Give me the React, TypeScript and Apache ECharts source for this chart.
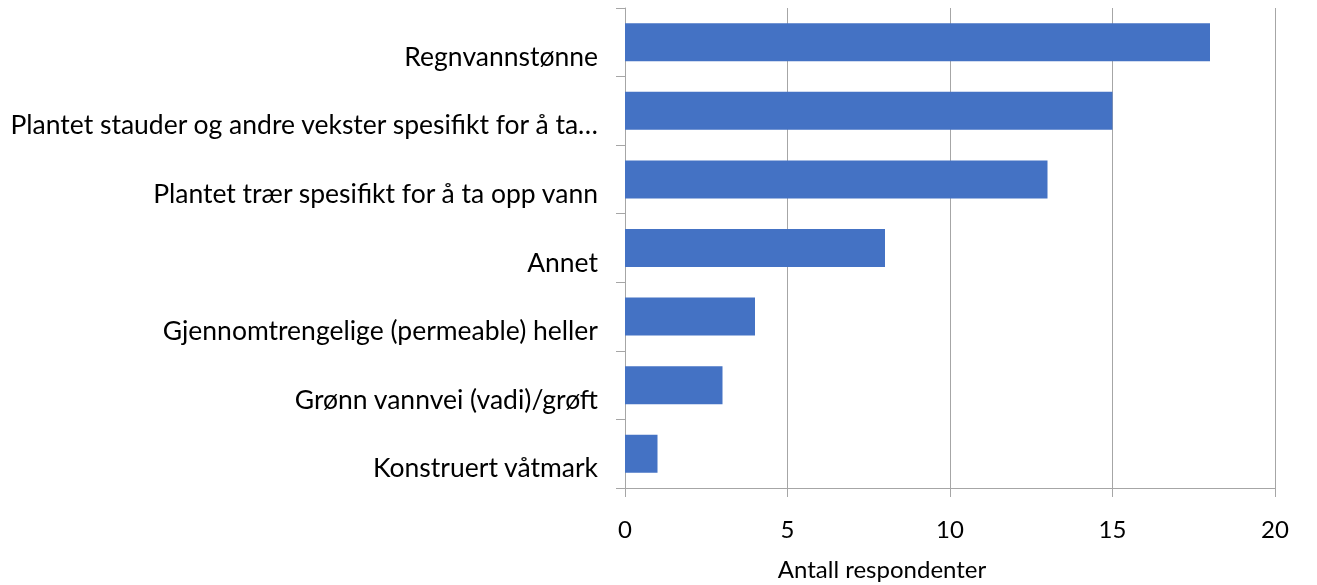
import React, { useEffect, useRef } from "react";
import * as echarts from "echarts";

const categories = [
  "Regnvannstønne",
  "Plantet stauder og andre vekster spesifikt for å ta…",
  "Plantet trær spesifikt for å ta opp vann",
  "Annet",
  "Gjennomtrengelige (permeable) heller",
  "Grønn vannvei (vadi)/grøft",
  "Konstruert våtmark",
];
const values = [18, 15, 13, 8, 4, 3, 1];
const xAxisTitle = "Antall respondenter";

const FONT = "Lato";

export default function App() {
  const ref = useRef<HTMLDivElement>(null);
  useEffect(() => {
    if (!ref.current) return;
    const chart = echarts.init(ref.current, null, { renderer: "svg" });
    chart.setOption({
      animation: false,
      grid: { left: 625, right: 42, top: 8, bottom: 94, containLabel: false },
      xAxis: {
        type: "value",
        min: 0,
        max: 20,
        interval: 5,
        name: xAxisTitle,
        nameLocation: "middle",
        nameGap: 68,
        nameTextStyle: {
          fontFamily: FONT,
          fontSize: 24,
          color: "#000",
          padding: [0, 136, 0, 0],
        },
        axisLine: { show: true, lineStyle: { color: "#a6a6a6", width: 1 } },
        axisTick: { show: true, length: 9, lineStyle: { color: "#a6a6a6" } },
        splitLine: { show: true, lineStyle: { color: "#a6a6a6", width: 1 } },
        axisLabel: { fontFamily: FONT, fontSize: 24, color: "#000", margin: 28 },
      },
      yAxis: {
        type: "category",
        inverse: true,
        data: categories,
        axisLine: { show: true, lineStyle: { color: "#a6a6a6", width: 1 } },
        axisTick: { show: true, length: 9, lineStyle: { color: "#a6a6a6" } },
        axisLabel: {
          fontFamily: FONT,
          fontSize: 26.5,
          color: "#000",
          margin: 27,
          verticalAlign: "top",
        },
      },
      series: [
        {
          type: "bar",
          data: values,
          barWidth: 38,
          itemStyle: { color: "#4472c4" },
        },
      ],
    });
    return () => chart.dispose();
  }, []);
  return (
    <div
      ref={ref}
      style={{ position: "fixed", left: 0, top: 0, width: 1317, height: 585 }}
    />
  );
}
